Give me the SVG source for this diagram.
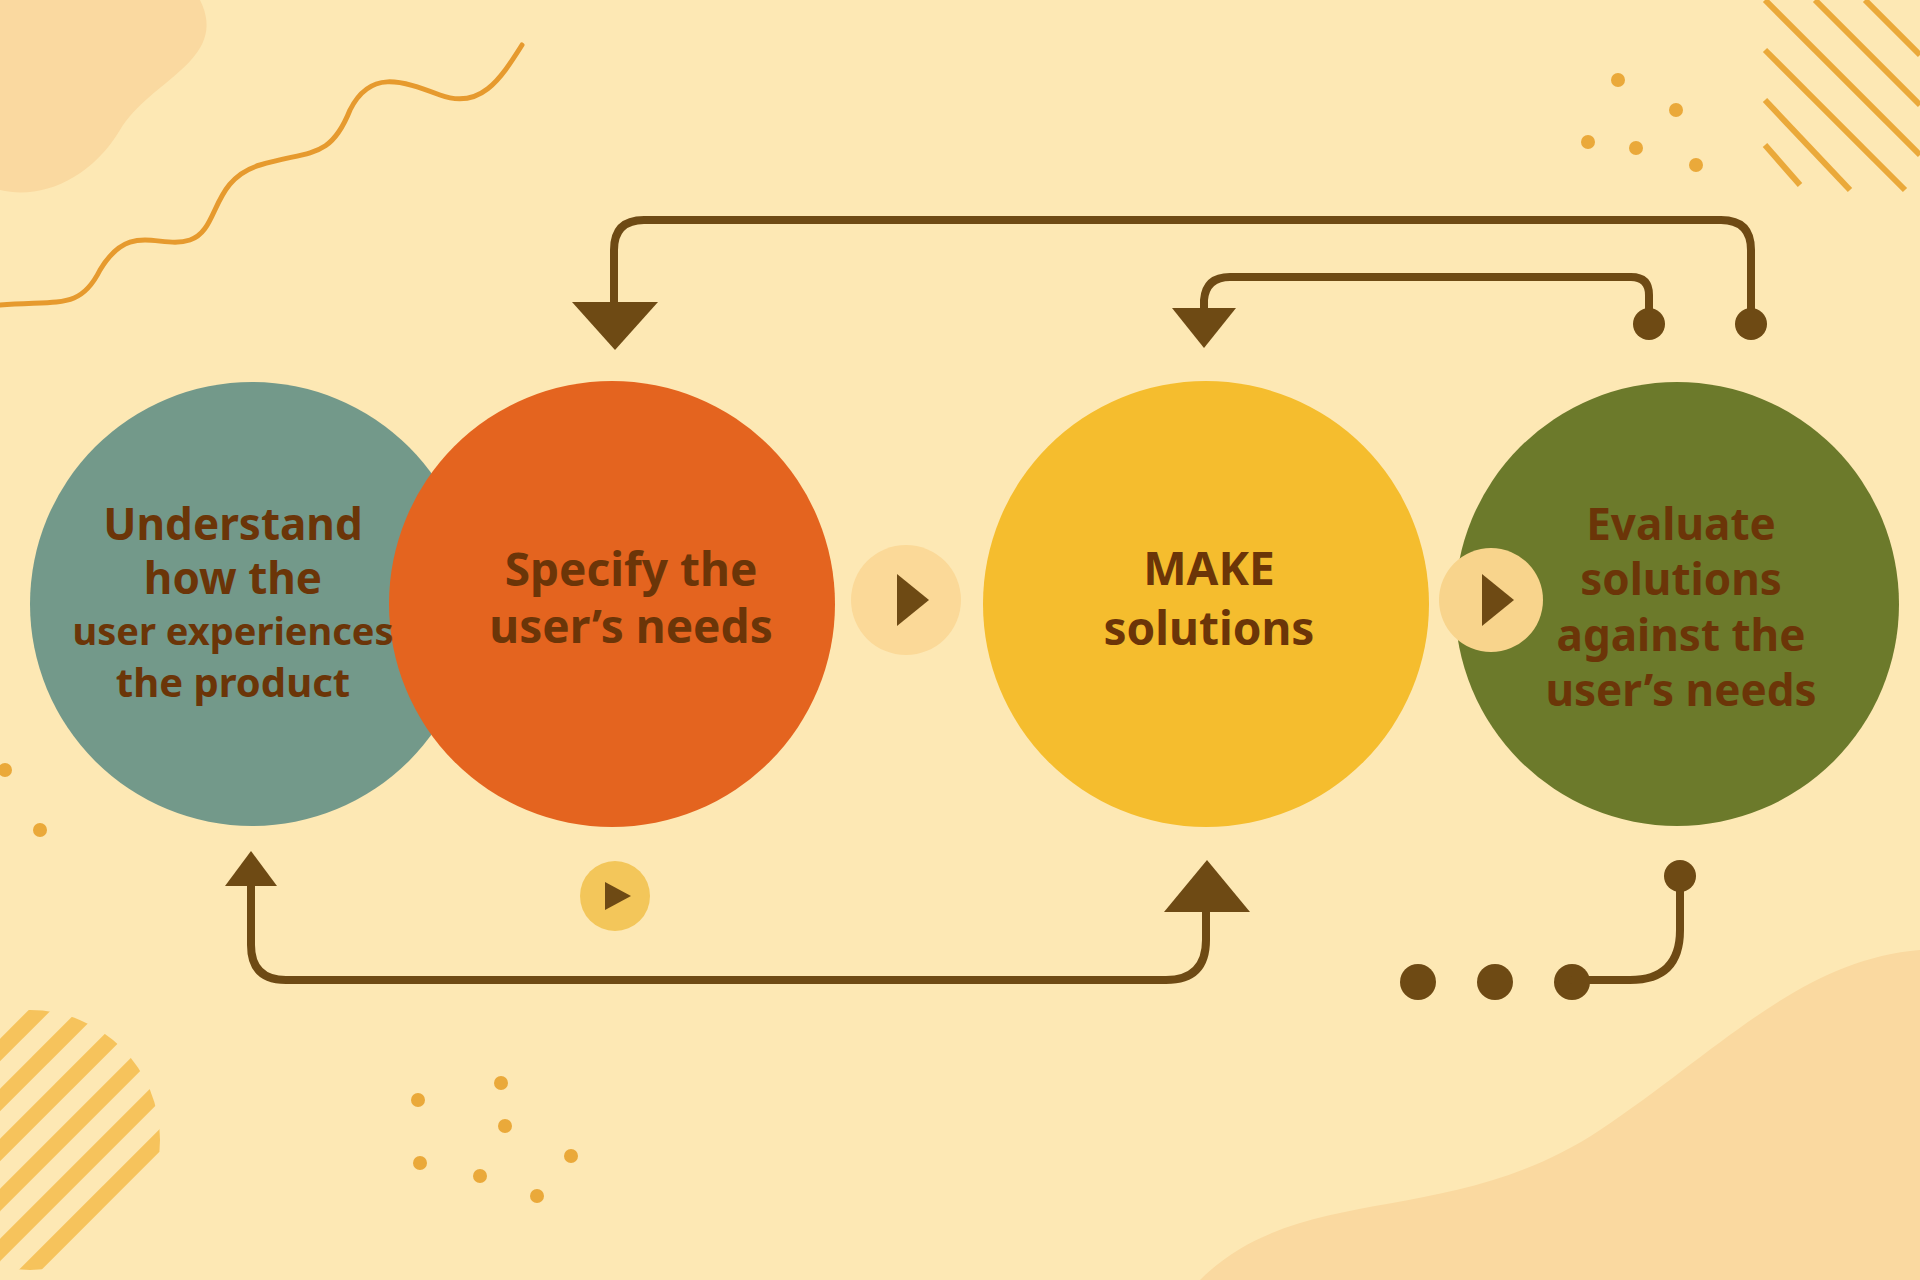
<svg xmlns="http://www.w3.org/2000/svg" width="1920" height="1280" viewBox="0 0 1920 1280">
<defs>
<style>
.t{font-family:"Noto Sans","Liberation Sans",sans-serif;font-weight:bold;fill:#6b3508;text-anchor:middle}
.c{fill:none;stroke:#6e4a14;stroke-width:8;stroke-linecap:round;stroke-linejoin:round}
.ah{fill:#6e4a14}
.d{fill:#eaa93a}
.s{stroke:#eaa93a;stroke-width:6}
</style>
</defs>
<rect width="1920" height="1280" fill="#fde8b4"/>
<g id="decor">
<path d="M0 0 H200 C230 60 150 80 120 130 C90 180 40 200 0 190 Z" fill="#fad9a0"/>
<path d="M1200 1280 C1300 1180 1450 1230 1600 1130 C1720 1050 1800 960 1920 950 V1280 Z" fill="#fad9a0"/>
<path d="M0 305 C60 300 80 310 100 270 C130 220 160 250 190 240 C220 230 210 180 260 165 C310 150 330 160 350 110 C370 70 400 80 440 95 C480 110 500 80 522 45" fill="none" stroke="#e69a2e" stroke-width="5" stroke-linecap="round"/>
<g class="s"><line x1="1765" y1="0" x2="1920" y2="155"/><line x1="1765" y1="50" x2="1905" y2="190"/><line x1="1765" y1="100" x2="1850" y2="190"/><line x1="1765" y1="145" x2="1800" y2="185"/><line x1="1815" y1="0" x2="1920" y2="105"/><line x1="1865" y1="0" x2="1920" y2="55"/></g>
<g class="d"><circle cx="1618" cy="80" r="7"/><circle cx="1588" cy="142" r="7"/><circle cx="1636" cy="148" r="7"/><circle cx="1676" cy="110" r="7"/><circle cx="1696" cy="165" r="7"/>
<circle cx="5" cy="770" r="7"/><circle cx="40" cy="830" r="7"/>
<circle cx="418" cy="1100" r="7"/><circle cx="501" cy="1083" r="7"/><circle cx="505" cy="1126" r="7"/><circle cx="420" cy="1163" r="7"/><circle cx="480" cy="1176" r="7"/><circle cx="571" cy="1156" r="7"/><circle cx="537" cy="1196" r="7"/></g>
<clipPath id="cp"><circle cx="30" cy="1140" r="130"/></clipPath>
<g clip-path="url(#cp)" stroke="#f6c35c" stroke-width="16"><line x1="-100" y1="1100" x2="60" y2="940"/><line x1="-100" y1="1150" x2="90" y2="960"/><line x1="-100" y1="1200" x2="130" y2="970"/><line x1="-100" y1="1250" x2="160" y2="990"/><line x1="-100" y1="1300" x2="170" y2="1030"/><line x1="-60" y1="1310" x2="170" y2="1080"/><line x1="-10" y1="1310" x2="170" y2="1130"/></g>
</g>
<g id="n1"><circle cx="252" cy="604" r="222" fill="#73998a"/></g>
<g id="n2"><circle cx="612" cy="604" r="223" fill="#e4641f"/></g>
<g id="n3"><circle cx="1206" cy="604" r="223" fill="#f5bd2e"/></g>
<g id="n4"><circle cx="1677" cy="604" r="222" fill="#6c7a2b"/></g>
<g id="labels">
<text class="t" font-size="44"><tspan x="233" y="540">Understand</tspan><tspan x="233" y="594">how the</tspan></text>
<text class="t" font-size="38" x="233" y="645">user experiences</text>
<text class="t" font-size="40" x="233" y="697">the product</text>
<text class="t" font-size="46"><tspan x="631" y="586">Specify the</tspan><tspan x="631" y="643">user’s needs</tspan></text>
<text class="t" font-size="46"><tspan x="1209" y="585">MAKE</tspan><tspan x="1209" y="645">solutions</tspan></text>
<text class="t" font-size="44"><tspan x="1681" y="540">Evaluate</tspan><tspan x="1681" y="595">solutions</tspan><tspan x="1681" y="651">against the</tspan><tspan x="1681" y="706">user’s needs</tspan></text>
</g>
<g id="play">
<circle cx="906" cy="600" r="55" fill="#fbd998"/><path d="M897 574 L929 600 L897 626 Z" fill="#6e4a14"/>
<circle cx="1491" cy="600" r="52" fill="#f8d48c"/><path d="M1482 574 L1514 600 L1482 626 Z" fill="#6e4a14"/>
<circle cx="615" cy="896" r="35" fill="#f3c65a"/><path d="M605 882 L631 896 L605 910 Z" fill="#6e4a14"/>
</g>
<g id="connectors">
<path class="c" d="M1751 322 V250 Q1751 220 1721 220 H644 Q614 220 614 250 V310"/>
<path class="ah" d="M572 302 H658 L615 350 Z"/>
<circle class="ah" cx="1751" cy="324" r="16"/>
<path class="c" d="M1649 322 V295 Q1649 277 1631 277 H1230 Q1206 277 1204 300 V312"/>
<path class="ah" d="M1172 308 H1236 L1204 348 Z"/>
<circle class="ah" cx="1649" cy="324" r="16"/>
<path class="c" d="M251 880 V945 Q251 980 286 980 H1166 Q1206 980 1206 940 V900"/>
<path class="ah" d="M225 886 H277 L251 851 Z"/>
<path class="ah" d="M1164 912 H1250 L1207 860 Z"/>
<circle class="ah" cx="1418" cy="982" r="18"/><circle class="ah" cx="1495" cy="982" r="18"/><circle class="ah" cx="1572" cy="982" r="18"/>
<path class="c" d="M1572 980 H1630 Q1680 980 1680 930 V878"/>
<circle class="ah" cx="1680" cy="876" r="16"/>
</g>
</svg>
